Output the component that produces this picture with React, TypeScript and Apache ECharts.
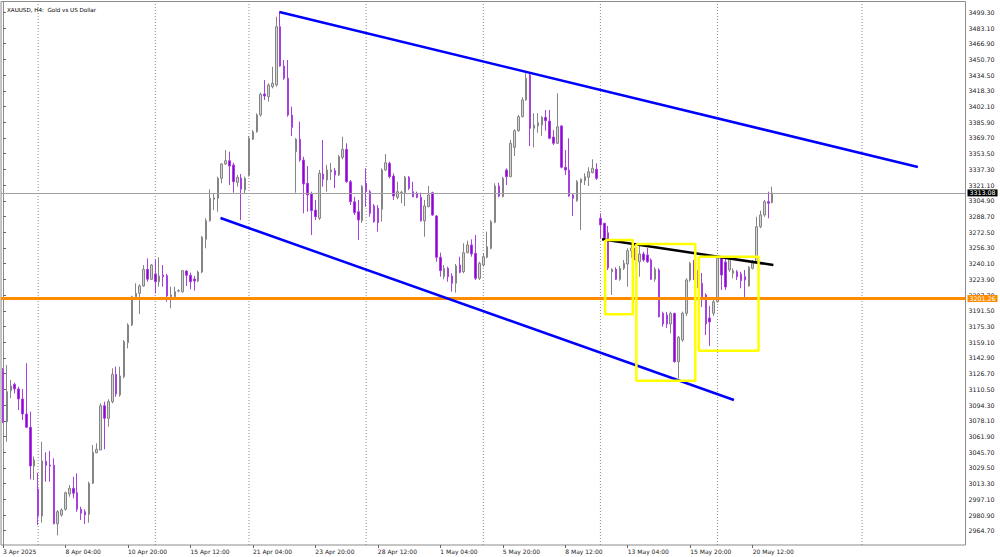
import React, { useEffect, useRef } from 'react';
import * as echarts from 'echarts';

// ---------- data (XAUUSD H4) ----------
const OPEN = [
  3129.7, 3077.1, 3109.1, 3115.7, 3110.9, 3100.6, 3085.1, 3071.4, 3031.5, 3007.7,
  2979.9, 3036.3, 3032.5, 3032.2, 2972.0, 2980.9, 2986.8, 3002.6, 3008.5, 3003.9,
  2986.8, 2984.3, 2981.6, 3013.6, 3045.2, 3048.0, 3093.6, 3080.6, 3097.8, 3126.0,
  3104.7, 3123.6, 3158.6, 3176.9, 3206.0, 3209.5, 3217.1, 3234.3, 3224.0, 3229.5,
  3221.5, 3228.4, 3227.7, 3206.0, 3206.0, 3211.9, 3211.2, 3232.5, 3228.1, 3224.3,
  3222.2, 3231.5, 3265.2, 3284.4, 3306.5, 3307.5, 3328.1, 3342.9, 3346.3, 3341.9,
  3324.0, 3328.4, 3316.1, 3331.5, 3368.4, 3376.2, 3393.4, 3415.1, 3412.3, 3422.6,
  3424.3, 3484.5, 3443.9, 3431.3, 3393.4, 3355.6, 3368.4, 3347.0, 3323.0, 3311.9,
  3295.4, 3286.9, 3332.6, 3326.4, 3334.9, 3336.0, 3331.5, 3349.8, 3358.0, 3324.6,
  3304.0, 3293.7, 3284.4, 3323.0, 3314.3, 3299.6, 3297.2, 3296.2, 3336.7, 3343.6,
  3330.5, 3308.5, 3313.3, 3313.3, 3329.2, 3314.3, 3312.7, 3308.5, 3284.4, 3298.9,
  3313.3, 3289.3, 3246.7, 3226.7, 3235.3, 3227.4, 3219.9, 3238.7, 3231.8, 3251.4,
  3259.4, 3250.8, 3225.0, 3238.7, 3246.7, 3256.0, 3282.8, 3320.2, 3309.2, 3336.7,
  3329.8, 3360.0, 3377.2, 3391.7, 3408.9, 3434.7, 3379.7, 3382.1, 3383.1, 3391.0,
  3387.2, 3370.7, 3364.2, 3382.1, 3339.5, 3336.7, 3310.9, 3305.0, 3323.6, 3325.7,
  3329.2, 3333.9, 3337.4, 3286.9, 3281.7, 3272.0, 3231.8, 3234.3, 3224.0, 3235.3,
  3239.8, 3253.2, 3256.3, 3242.1, 3250.1, 3249.0, 3243.9, 3224.0, 3233.6, 3188.9,
  3187.2, 3177.9, 3188.9, 3139.0, 3161.4, 3188.9, 3223.3, 3239.8, 3228.4, 3219.9,
  3207.8, 3184.1, 3188.9, 3200.9, 3245.6, 3241.8, 3233.6, 3230.2, 3231.8, 3229.5,
  3226.7, 3217.1, 3235.3, 3241.1, 3278.2, 3290.3, 3304.0, 3303.0,
];
const HIGH = [
  3132.5, 3135.6, 3120.1, 3117.4, 3113.2, 3110.9, 3137.4, 3087.5, 3041.1, 3024.2,
  3056.5, 3045.6, 3046.9, 3039.4, 2986.1, 2987.8, 3005.0, 3011.9, 3020.4, 3023.9,
  2989.5, 2986.8, 3015.3, 3053.1, 3054.9, 3096.1, 3097.8, 3100.2, 3132.2, 3133.9,
  3133.9, 3161.4, 3178.6, 3207.1, 3219.9, 3218.8, 3238.7, 3245.6, 3239.8, 3244.6,
  3246.7, 3238.7, 3229.5, 3216.4, 3216.4, 3213.7, 3233.6, 3233.6, 3230.8, 3227.4,
  3232.9, 3268.6, 3286.9, 3316.8, 3312.7, 3329.8, 3343.6, 3357.3, 3355.6, 3344.2,
  3331.5, 3332.6, 3329.8, 3371.8, 3377.9, 3395.2, 3416.4, 3429.5, 3426.1, 3443.2,
  3494.8, 3500.0, 3450.1, 3450.1, 3402.0, 3369.7, 3386.5, 3350.4, 3340.8, 3314.3,
  3305.8, 3336.7, 3367.6, 3341.9, 3343.9, 3338.8, 3352.2, 3371.0, 3364.2, 3326.4,
  3309.2, 3305.8, 3321.2, 3338.4, 3316.1, 3301.6, 3300.6, 3338.4, 3353.2, 3345.3,
  3333.3, 3324.6, 3315.3, 3330.5, 3330.5, 3324.6, 3314.3, 3313.3, 3305.8, 3320.2,
  3314.3, 3290.3, 3251.4, 3238.7, 3237.0, 3230.2, 3239.8, 3247.3, 3261.1, 3263.8,
  3265.2, 3269.7, 3242.1, 3250.8, 3273.1, 3285.1, 3323.0, 3323.6, 3329.8, 3338.4,
  3367.6, 3378.7, 3393.4, 3411.7, 3436.4, 3436.4, 3395.2, 3395.2, 3392.4, 3398.6,
  3398.6, 3377.9, 3415.8, 3383.1, 3357.3, 3369.4, 3312.7, 3326.4, 3328.1, 3333.3,
  3339.5, 3347.7, 3343.6, 3292.0, 3282.3, 3279.0, 3235.3, 3236.4, 3237.7, 3243.9,
  3256.0, 3260.4, 3258.3, 3259.4, 3252.4, 3256.3, 3245.6, 3236.4, 3235.3, 3190.6,
  3190.3, 3190.6, 3189.5, 3165.5, 3190.6, 3225.0, 3242.1, 3243.9, 3233.6, 3230.5,
  3209.5, 3196.5, 3202.6, 3247.3, 3248.0, 3246.0, 3246.7, 3235.3, 3233.6, 3231.8,
  3233.6, 3237.7, 3243.9, 3288.5, 3294.7, 3305.8, 3314.3, 3319.5,
];
const LOW = [
  3075.8, 3056.5, 3101.3, 3106.4, 3089.2, 3078.9, 3070.6, 3017.7, 3017.0, 2970.6,
  2973.0, 3015.3, 3015.3, 2971.3, 2960.0, 2979.2, 2985.4, 2999.8, 2998.2, 2984.3,
  2975.8, 2971.7, 2973.0, 3012.9, 3044.6, 3048.0, 3048.7, 3072.0, 3096.1, 3102.9,
  3102.9, 3121.9, 3152.8, 3175.8, 3204.4, 3188.2, 3216.4, 3221.5, 3223.3, 3209.5,
  3216.4, 3216.4, 3200.9, 3194.1, 3202.6, 3210.6, 3210.2, 3217.1, 3213.7, 3212.2,
  3221.2, 3230.2, 3256.0, 3283.4, 3295.4, 3293.7, 3323.0, 3341.9, 3321.2, 3313.3,
  3319.5, 3285.1, 3312.7, 3329.8, 3367.6, 3375.2, 3391.7, 3408.9, 3407.1, 3420.9,
  3422.6, 3443.2, 3429.5, 3391.7, 3371.8, 3313.3, 3345.3, 3292.0, 3293.7, 3269.7,
  3285.1, 3285.1, 3319.5, 3314.3, 3326.4, 3318.1, 3330.5, 3347.7, 3323.6, 3300.6,
  3290.3, 3264.5, 3282.3, 3298.9, 3288.5, 3282.3, 3273.1, 3283.4, 3336.0, 3328.1,
  3305.8, 3306.5, 3302.4, 3299.6, 3316.1, 3308.5, 3307.5, 3283.4, 3267.9, 3298.2,
  3289.3, 3242.1, 3226.7, 3224.0, 3221.5, 3211.2, 3210.2, 3230.2, 3230.2, 3250.8,
  3247.3, 3223.3, 3223.3, 3237.0, 3245.6, 3254.9, 3281.7, 3308.5, 3308.5, 3321.2,
  3329.2, 3351.1, 3376.2, 3391.0, 3408.2, 3361.4, 3360.1, 3375.2, 3371.8, 3377.2,
  3368.4, 3362.5, 3363.5, 3338.4, 3331.5, 3309.2, 3289.3, 3304.0, 3274.8, 3321.2,
  3320.2, 3333.3, 3326.4, 3266.3, 3263.8, 3233.6, 3207.8, 3223.3, 3222.5, 3233.6,
  3216.4, 3246.0, 3237.7, 3226.7, 3242.1, 3240.8, 3223.3, 3221.5, 3184.8, 3175.1,
  3173.8, 3168.3, 3138.0, 3121.9, 3159.6, 3186.1, 3221.5, 3223.3, 3215.0, 3195.4,
  3166.5, 3155.2, 3186.1, 3199.9, 3213.0, 3213.0, 3231.8, 3225.0, 3223.3, 3214.7,
  3205.4, 3216.4, 3234.3, 3240.5, 3276.6, 3288.5, 3286.9, 3302.4,
];
const CLOSE = [
  3077.1, 3108.1, 3114.0, 3110.9, 3100.6, 3085.1, 3071.4, 3031.5, 3037.6, 2979.9,
  3036.6, 3032.2, 3031.5, 2972.0, 2984.3, 2986.1, 3003.9, 3008.5, 3003.3, 2986.8,
  2982.7, 2980.9, 3013.6, 3045.6, 3048.7, 3093.6, 3080.6, 3097.8, 3126.0, 3105.7,
  3124.3, 3159.6, 3176.9, 3206.0, 3209.5, 3217.1, 3234.3, 3224.0, 3238.7, 3221.5,
  3227.4, 3226.7, 3206.8, 3207.8, 3211.2, 3212.2, 3232.9, 3228.1, 3221.5, 3222.2,
  3231.5, 3267.3, 3284.4, 3307.5, 3308.1, 3328.1, 3342.9, 3346.3, 3340.8, 3324.6,
  3329.2, 3316.8, 3328.1, 3369.4, 3376.2, 3393.4, 3414.8, 3413.0, 3424.3, 3426.1,
  3484.5, 3443.9, 3431.3, 3393.4, 3380.7, 3368.4, 3347.0, 3322.3, 3310.9, 3294.7,
  3288.5, 3333.3, 3327.1, 3336.7, 3336.7, 3331.5, 3350.4, 3358.0, 3324.6, 3304.0,
  3292.7, 3285.1, 3319.5, 3314.3, 3292.0, 3283.4, 3282.3, 3336.7, 3344.2, 3329.8,
  3309.9, 3314.3, 3313.7, 3329.2, 3317.8, 3309.2, 3308.5, 3284.4, 3299.6, 3310.9,
  3290.3, 3246.7, 3232.9, 3235.3, 3226.7, 3219.9, 3237.7, 3231.2, 3251.4, 3259.4,
  3250.1, 3225.0, 3240.5, 3247.3, 3257.6, 3283.4, 3320.2, 3309.9, 3328.1, 3329.8,
  3364.2, 3377.2, 3391.7, 3408.9, 3431.3, 3379.7, 3383.1, 3385.5, 3391.0, 3387.5,
  3369.4, 3364.2, 3381.3, 3339.5, 3336.7, 3309.9, 3307.5, 3324.6, 3327.1, 3329.8,
  3334.9, 3338.4, 3328.1, 3280.0, 3266.0, 3235.6, 3234.3, 3224.0, 3235.3, 3240.5,
  3253.5, 3256.3, 3243.9, 3250.1, 3243.9, 3242.1, 3224.0, 3234.3, 3185.4, 3177.9,
  3177.9, 3188.9, 3139.0, 3164.2, 3188.9, 3223.3, 3240.5, 3228.4, 3219.1, 3206.0,
  3177.9, 3180.0, 3200.9, 3245.6, 3228.4, 3216.0, 3244.6, 3232.9, 3226.7, 3222.5,
  3223.3, 3236.4, 3242.1, 3278.2, 3290.3, 3304.0, 3302.4, 3313.08,
];

// tick values of the price scale
const PRICE_TICKS = [
  2964.7, 2980.9, 2997.1, 3013.3, 3029.5, 3045.7, 3061.9, 3078.1, 3094.3, 3110.5,
  3126.7, 3142.9, 3159.1, 3175.3, 3191.5, 3207.7, 3223.9, 3240.1, 3256.3, 3272.5,
  3288.7, 3304.9, 3321.1, 3337.3, 3353.5, 3369.7, 3385.9, 3402.1, 3418.3, 3434.5,
  3450.7, 3466.9, 3483.1, 3499.3,
];

const TOTAL_SLOTS = 247; // bars + empty future space
const WEEK_GRID_IDX = [9, 39, 63, 93, 123, 153, 183, 220];
const HOLIDAYS = ['2025-04-18'];
const MONTHS = ['Jan', 'Feb', 'Mar', 'Apr', 'May', 'Jun', 'Jul', 'Aug', 'Sep', 'Oct', 'Nov', 'Dec'];

const LAST_PRICE = 3313.08;
const ORANGE_LEVEL = 3204.2;
const ORANGE_LABEL = '3201.26';

// trend lines / boxes: [barIndex, price]
const UPPER_CHANNEL = [[70.8, 3499.6], [234.3, 3339.8]];
const LOWER_CHANNEL = [[55.7, 3287.2], [187.2, 3099.5]];
const NECK_LINE = [[153.4, 3265.2], [197.3, 3238.7]];
const BOXES = [
  [154.2, 161.3, 3264.5, 3187.9],
  [162.2, 177.3, 3260.4, 3119.4],
  [178.2, 193.5, 3247.3, 3150.3],
];

function buildCategories(n: number): string[] {
  const out: string[] = [];
  let t = Date.UTC(2025, 3, 3, 12);
  while (out.length < n) {
    const d = new Date(t);
    const wd = d.getUTCDay();
    const key = d.toISOString().slice(0, 10);
    if (wd !== 0 && wd !== 6 && !HOLIDAYS.includes(key)) {
      const hh = String(d.getUTCHours()).padStart(2, '0');
      const label =
        out.length === 0
          ? `${d.getUTCDate()} ${MONTHS[d.getUTCMonth()]} ${d.getUTCFullYear()}`
          : `${d.getUTCDate()} ${MONTHS[d.getUTCMonth()]} ${hh}:00`;
      out.push(label);
    }
    t += 4 * 3600 * 1000;
  }
  return out;
}

const Y_MIN = 2950.0;
const Y_MAX = 3510.45;

export default function App() {
  const ref = useRef<HTMLDivElement>(null);
  useEffect(() => {
    if (!ref.current) return;
    const chart = echarts.init(ref.current, undefined, { renderer: 'svg' });
    const cats = buildCategories(TOTAL_SLOTS);
    const candles = OPEN.map((o, i) => [o, CLOSE[i], LOW[i], HIGH[i]]);
    const labelInterval = (i: number) => i % 16 === 0 && i <= 192;
    const font = 'DejaVu Sans, Tahoma, sans-serif';

    const lineSeries = (data: number[][], color: string, width: number, type: any = 'solid') => ({
      type: 'line',
      xAxisIndex: 1,
      yAxisIndex: 0,
      data,
      symbol: 'none',
      silent: true,
      z: 5,
      lineStyle: { color, width, type },
    });

    const series: any[] = [];
    WEEK_GRID_IDX.forEach((idx) => {
      const s: any = lineSeries([[idx, Y_MIN], [idx, Y_MAX]], '#8a8a8a', 1, [1, 2]);
      s.z = 1;
      series.push(s);
    });
    series.push({
      type: 'candlestick',
      xAxisIndex: 0,
      yAxisIndex: 0,
      data: candles,
      barWidth: 2,
      z: 3,
      itemStyle: {
        color: '#d4d4d4',
        color0: '#9400d3',
        borderColor: '#858585',
        borderColor0: '#a640e0',
        borderWidth: 1,
      },
      markLine: {
        silent: true,
        symbol: ['none', 'none'],
        data: [
          {
            yAxis: LAST_PRICE,
            lineStyle: { color: '#a0a0a0', width: 1, type: 'solid' },
            label: {
              show: true, position: 'end', formatter: LAST_PRICE.toFixed(2), distance: 2,
              backgroundColor: '#000', color: '#fff', padding: [1, 2, 0, 2], fontSize: 6.3, fontFamily: font,
            },
          },
          {
            yAxis: ORANGE_LEVEL,
            lineStyle: { color: '#ff8c00', width: 3, type: 'solid' },
            label: {
              show: true, position: 'end', formatter: ORANGE_LABEL, distance: 2,
              backgroundColor: '#ff8c00', color: '#fff', padding: [1, 2, 0, 2], fontSize: 6.3, fontFamily: font,
            },
          },
        ],
      },
    });
    series.push(lineSeries(UPPER_CHANNEL, '#0000ff', 2.5));
    series.push(lineSeries(LOWER_CHANNEL, '#0000ff', 2.5));
    series.push(lineSeries(NECK_LINE, '#000000', 2.5));
    BOXES.forEach(([x1, x2, y1, y2]) => {
      series.push(lineSeries([[x1, y1], [x2, y1], [x2, y2], [x1, y2], [x1, y1]], '#ffff00', 2.5));
    });

    chart.setOption({
      animation: false,
      backgroundColor: '#ffffff',
      textStyle: { fontFamily: font },
      title: {
        text: 'XAUUSD, H4:  Gold vs US Dollar',
        left: 2,
        top: 2,
        textStyle: { fontSize: 5.6, fontWeight: 'normal', color: '#000', fontFamily: font },
      },
      grid: {
        left: 0.5, top: 1.5, width: 965, height: 543.5,
        show: true, borderColor: '#8c8c8c', borderWidth: 1, backgroundColor: '#ffffff',
      },
      xAxis: [
        {
          type: 'category',
          data: cats,
          boundaryGap: true,
          axisLine: { show: false },
          axisTick: { show: true, interval: labelInterval, alignWithLabel: true, length: 3, lineStyle: { color: '#666' } },
          axisLabel: { interval: labelInterval, align: 'left', fontSize: 6, color: '#222', margin: 3, fontFamily: font },
          splitLine: { show: false },
        },
        { type: 'value', min: -0.5, max: TOTAL_SLOTS - 0.5, show: false },
      ],
      yAxis: [
        {
          type: 'value',
          position: 'right',
          min: Y_MIN,
          max: Y_MAX,
          axisLine: { show: true, lineStyle: { color: '#8c8c8c' } },
          axisTick: { show: true, length: 3, customValues: PRICE_TICKS, lineStyle: { color: '#666' } },
          axisLabel: {
            customValues: PRICE_TICKS,
            formatter: (v: number) => v.toFixed(2),
            fontSize: 6.3, color: '#222', margin: 3, fontFamily: font,
          },
          splitLine: { show: false },
        },
      ],
      series,
    });
    return () => chart.dispose();
  }, []);

  return (
    <div
      ref={ref}
      style={{ position: 'fixed', left: 0, top: 0, width: 1000, height: 557, background: '#fff' }}
    />
  );
}
